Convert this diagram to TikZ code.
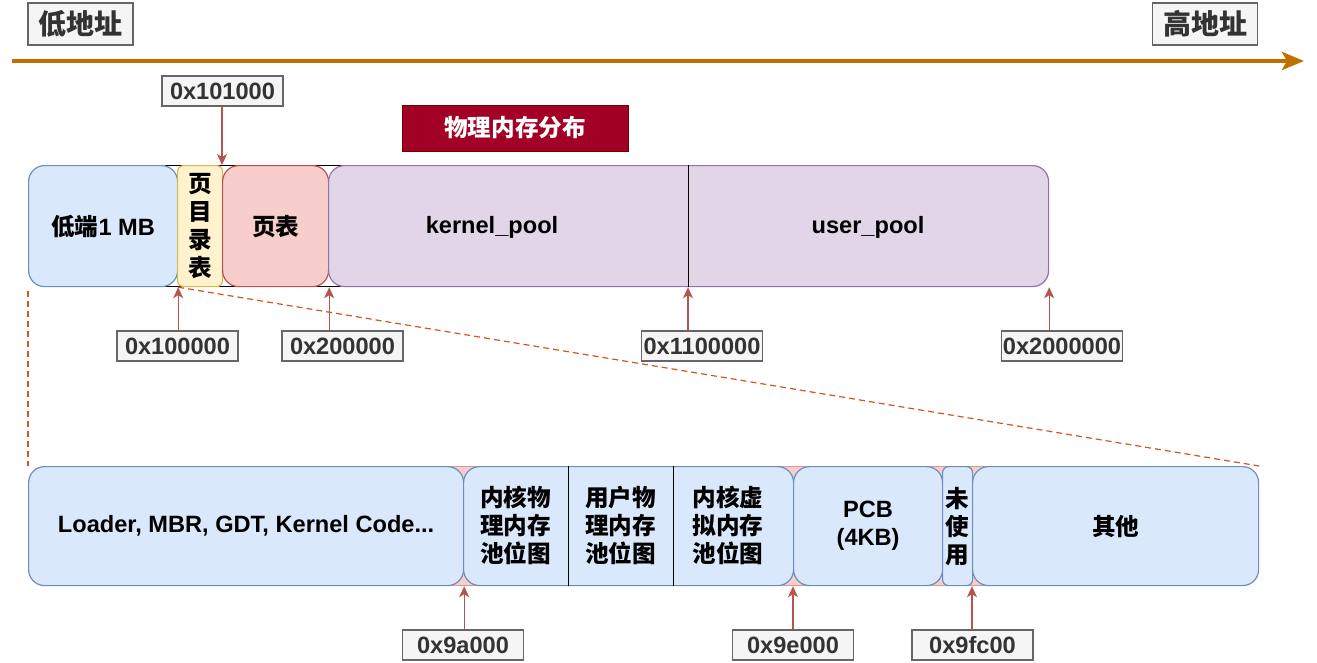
\documentclass[tikz,border=0pt]{standalone}
\usepackage{fontspec}
\setmainfont{Liberation Sans}
\newfontfamily\cjk{Noto Sans CJK SC}
\usetikzlibrary{arrows.meta}
\definecolor{bluef}{HTML}{DAE8FC}\definecolor{bluel}{HTML}{6C8EBF}
\definecolor{yelf}{HTML}{FFF2CC}\definecolor{yell}{HTML}{D6B656}
\definecolor{pinkf}{HTML}{F8CECC}\definecolor{pinkl}{HTML}{B85450}
\definecolor{purf}{HTML}{E1D5E7}\definecolor{purl}{HTML}{9673A6}
\definecolor{titf}{HTML}{A20025}\definecolor{titl}{HTML}{6F0000}
\definecolor{labf}{HTML}{F5F5F5}\definecolor{labl}{HTML}{666666}\definecolor{labt}{HTML}{333333}
\definecolor{axis}{HTML}{C07000}\definecolor{zoomc}{HTML}{D6541C}
\newcommand\fz{\fontsize{23.6}{28}\selectfont\bfseries}
\newcommand\fzl{\fontsize{28}{32}\selectfont\bfseries}
\tikzset{
  blk/.style={draw, line width=1.2pt, rounded corners=16pt, anchor=north west, inner sep=0pt, font=\fz, align=center},
  bluebox/.style={blk, fill=bluef, draw=bluel},
  yelbox/.style={blk, fill=yelf, draw=yell, rounded corners=6pt},
  pinkbox/.style={blk, fill=pinkf, draw=pinkl},
  purbox/.style={blk, fill=purf, draw=purl},
  addr/.style={draw=labl, fill=labf, text=labt, line width=1.2pt, minimum width=121pt, minimum height=30pt, inner sep=0pt, font=\fz},
  tag/.style={draw=labl, fill=labf, text=labt, line width=1.2pt, minimum width=105pt, minimum height=42pt, inner sep=0pt, font=\fzl\cjk},
  ptr/.style={draw=pinkl, line width=1.2pt, -{Stealth[length=11pt,width=10pt,inset=3pt]}},
  zoomline/.style={draw=zoomc, line width=1.2pt, dash pattern=on 6pt off 4pt},
  sepline/.style={draw=black, line width=1pt},
  txt/.style={font=\fz, inner sep=0pt, align=center}
}
\begin{document}
\begin{tikzpicture}[x=1pt,y=-1pt]
\useasboundingbox (0,0) rectangle (1317,662);
% axis
\coordinate (axL) at (12,61);
\coordinate (axR) at (1304,61);
\draw[axis, line width=4pt, -{Stealth[length=22pt,width=18pt,inset=5pt]}] (axL) -- (axR);
\node[tag] (lowaddr) at (80.5,24) {低地址};
\node[tag] (highaddr) at (1205,24) {高地址};
% title
\node[draw=titl, fill=titf, text=white, line width=1pt, minimum width=226pt, minimum height=46pt, inner sep=0pt, font=\fz\cjk] (title) at (515,128) {物理内存分布};
% top row
\draw[line width=1pt, fill=white] (165,165) rectangle (345,286);
\node[bluebox, minimum width=149pt, minimum height=121pt] (lowmb) at (28,165) {{\cjk 低端}1 MB};
\node[yelbox, minimum width=45pt, minimum height=121pt, font=\fz\cjk] (pdir) at (177,165) {页\\目\\录\\表};
\node[pinkbox, minimum width=106pt, minimum height=121pt, font=\fz\cjk] (ptab) at (222,165) {页表};
\node[purbox, minimum width=720pt, minimum height=121pt] (pool) at (328,165) {};
\coordinate (split) at (688,165);
\draw[sepline] (split) -- (split |- pool.south);
\node[txt] (kpool) at (492,227) {kernel\_pool};
\node[txt] (upool) at (868,227) {user\_pool};
% bottom row
\draw[draw=pinkl!60, fill=pinkf, line width=0.6pt] (448,466) rectangle (988,585);
\node[bluebox, minimum width=435pt, minimum height=119pt] (loader) at (28,466) {Loader, MBR, GDT, Kernel Code...};
\node[bluebox, minimum width=330pt, minimum height=119pt] (bitmaps) at (463,466) {};
\coordinate (sepA) at (568,466);
\coordinate (sepB) at (673,466);
\draw[sepline] (sepA) -- (sepA |- bitmaps.south);
\draw[sepline] (sepB) -- (sepB |- bitmaps.south);
\node[txt, font=\fz\cjk] (kpbm) at (515.5,525.5) {内核物\\理内存\\池位图};
\node[txt, font=\fz\cjk] (upbm) at (620.5,525.5) {用户物\\理内存\\池位图};
\node[txt, font=\fz\cjk] (kvbm) at (728,525.5) {内核虚\\拟内存\\池位图};
\node[bluebox, minimum width=149pt, minimum height=119pt] (pcb) at (793,466) {PCB\\(4KB)};
\node[bluebox, minimum width=30pt, minimum height=119pt, rounded corners=6pt, font=\fz\cjk] (unused) at (942,466) {未\\使\\用};
\node[bluebox, minimum width=286pt, minimum height=119pt, font=\fz\cjk] (other) at (972,466) {其他};
% zoom lines
\draw[zoomline] (lowmb.south west) ++(0,4) -- (loader.north west);
\draw[zoomline] (lowmb.south east) -- (other.north east);
% address labels
\node[addr] (a101000) at (222.5,91) {0x101000};
\node[addr] (a100000) at (177.5,346) {0x100000};
\node[addr] (a200000) at (342.5,346) {0x200000};
\node[addr] (a1100000) at (702,346) {0x1100000};
\node[addr] (a2000000) at (1062,346) {0x2000000};
\node[addr] (a9a000) at (463,645) {0x9a000};
\node[addr] (a9e000) at (793,645) {0x9e000};
\node[addr] (a9fc00) at (972.5,645) {0x9fc00};
\draw[ptr] (a101000.south -| ptab.north west) -- (ptab.north west);
\draw[ptr] (a100000.north -| lowmb.south east) -- (lowmb.south east);
\draw[ptr] (a200000.north -| ptab.south east) -- (ptab.south east);
\draw[ptr] (a1100000.north -| split) -- (split |- pool.south);
\draw[ptr] (a2000000.north -| pool.south east) -- (pool.south east);
\draw[ptr] (a9a000.north -| loader.south east) -- (loader.south east);
\draw[ptr] (a9e000.north -| pcb.south west) -- (pcb.south west);
\draw[ptr] (a9fc00.north -| other.south west) -- (other.south west);
\end{tikzpicture}
\end{document}
